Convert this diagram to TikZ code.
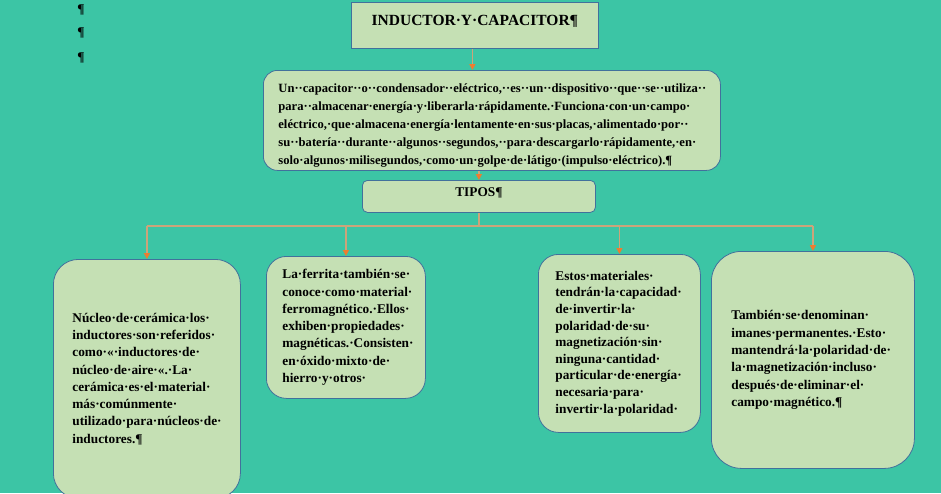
\documentclass[tikz,border=0pt]{standalone}
\usepackage{fontspec}
\setmainfont{Liberation Serif}
\usepackage{tikz}
\usetikzlibrary{arrows.meta,positioning}

\definecolor{fondo}{HTML}{3CC5A5}
\definecolor{verdecaja}{HTML}{C5E0B4}
\definecolor{borde}{HTML}{41719C}
\definecolor{linea}{HTML}{CDA47A}
\definecolor{punta}{HTML}{ED7D31}

\begin{document}
\begin{tikzpicture}[
        x=1pt, y=-1pt,
        every node/.style={font=\fontsize{13.3}{17.3}\selectfont\bfseries, text=black},
        caja/.style={draw=borde, fill=verdecaja, thick, align=left, anchor=north west, inner ysep=0pt},
        conector/.style={draw=linea, line width=1.4pt},
        flecha/.style={conector, -{Triangle[length=6pt, width=6pt, color=punta]}}
    ]

    % Background
    \useasboundingbox (0,0) rectangle (941,493);
    \clip (0,0) rectangle (941,493);
    \fill[fondo] (0,0) rectangle (941,493);

    % Paragraph marks
    \foreach \y [count=\i] in {10,33,58}
        \node (pil\i) at (81,\y) {¶};

    % Title Node
    \node[caja, rounded corners=0pt, minimum width=247, minimum height=46, align=center,
          text height=10pt, text depth=10pt,
          font=\fontsize{15.5}{18}\selectfont\bfseries] (titulo) at (351,2) {INDUCTOR·Y·CAPACITOR¶};

    % Capacitor Node
    \node[caja, rounded corners=14pt, minimum width=457, minimum height=100, inner xsep=15, text width=427,
          font=\fontsize{12.6}{17.8}\selectfont\bfseries]
        (capacitor) at (263,70)
        {\rule{0pt}{19pt}Un··capacitor··o··condensador··eléctrico,··es··un··dispositivo··que··se··utiliza··\\
         para··almacenar·energía·y·liberarla·rápidamente.·Funciona·con·un·campo·\\
         eléctrico,·que·almacena·energía·lentamente·en·sus·placas,·alimentado·por··\\
         su··batería··durante··algunos··segundos,··para·descargarlo·rápidamente,·en·\\
         solo·algunos·milisegundos,·como·un·golpe·de·látigo·(impulso·eléctrico).¶};

    % Tipos Node
    \node[caja, rounded corners=5pt, minimum width=233, minimum height=32, align=center,
          text height=8pt, text depth=8pt] (tipos) at (362,180) {TIPOS¶};

    % Type Nodes
    \node[caja, rounded corners=25pt, minimum width=187, minimum height=239, inner xsep=19, text width=149]
        (ceramica) at (53,259)
        {Núcleo·de·cerámica·los·\\
         inductores·son·referidos·\\
         como·«·inductores·de·\\
         núcleo·de·aire·«.·La·\\
         cerámica·es·el·material·\\
         más·comúnmente·\\
         utilizado·para·núcleos·de·\\
         inductores.¶};

    \node[caja, rounded corners=20pt, minimum width=159, minimum height=142, inner xsep=16, text width=127]
        (ferrita) at (266,256)
        {La·ferrita·también·se·\\
         conoce·como·material·\\
         ferromagnético.·Ellos·\\
         exhiben·propiedades·\\
         magnéticas.·Consisten·\\
         en·óxido·mixto·de·\\
         hierro·y·otros·};

    \node[caja, rounded corners=20pt, minimum width=162, minimum height=178, inner xsep=17, text width=128,
          font=\fontsize{13.3}{16.6}\selectfont\bfseries]
        (blandos) at (538,254)
        {Estos·materiales·\\
         tendrán·la·capacidad·\\
         de·invertir·la·\\
         polaridad·de·su·\\
         magnetización·sin·\\
         ninguna·cantidad·\\
         particular·de·energía·\\
         necesaria·para·\\
         invertir·la·polaridad·};

    \node[caja, rounded corners=30pt, minimum width=203, minimum height=217, inner xsep=20, text width=163]
        (duros) at (711,251)
        {También·se·denominan·\\
         imanes·permanentes.·Esto·\\
         mantendrá·la·polaridad·de·\\
         la·magnetización·incluso·\\
         después·de·eliminar·el·\\
         campo·magnético.¶};

    % Arrows
    \draw[flecha] ([xshift=-2.5]titulo.south) -- ([xshift=-2.5]titulo.south |- capacitor.north);
    \draw[flecha] (tipos.north |- capacitor.south) -- (tipos.north);

    \coordinate (bus) at ([yshift=-13]tipos.south);
    \draw[conector] (tipos.south) -- (bus);
    \draw[conector] (ceramica.north |- bus) -- (duros.north |- bus);
    \foreach \n in {ceramica,ferrita,blandos,duros}
        \draw[flecha] (\n.north |- bus) -- (\n.north);

\end{tikzpicture}
\end{document}
